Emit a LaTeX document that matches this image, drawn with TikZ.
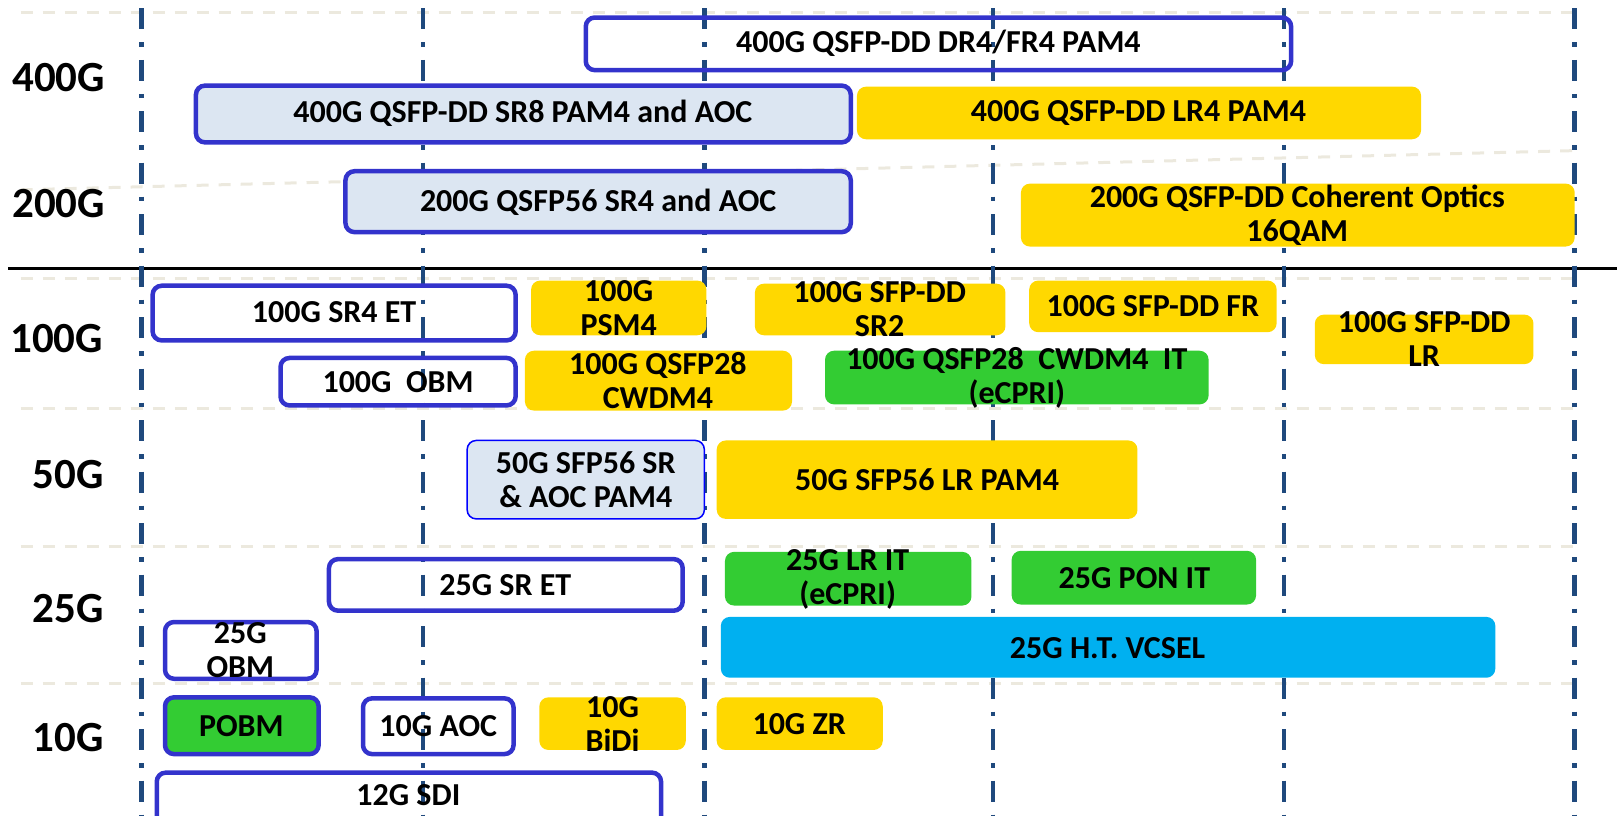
\documentclass[tikz,border=0pt]{standalone}
\usepackage{fontspec}
\setmainfont{Carlito}
\usepackage{xcolor}
\definecolor{gridblue}{RGB}{31,73,125}
\definecolor{sepgray}{RGB}{236,233,222}
\definecolor{chipblue}{RGB}{51,51,204}
\definecolor{srblue}{RGB}{220,230,242}
\definecolor{lryellow}{RGB}{255,216,0}
\definecolor{itgreen}{RGB}{51,204,51}
\definecolor{vcselcyan}{RGB}{0,176,240}

\begin{document}
\begin{tikzpicture}[x=1.0313pt, y=-1.0316pt,
        every node/.style={font=\bfseries\fontsize{32}{34}\selectfont, align=center, inner sep=0pt},
        ratelabel/.style={font=\bfseries\fontsize{43}{45}\selectfont},
        gridline/.style={draw=gridblue, line width=4.5pt, dash pattern=on 21pt off 13pt on 4.5pt off 13pt},
        sepline/.style={draw=sepgray, line width=3pt, dash pattern=on 12pt off 10pt},
        chip/.style={rounded corners=9pt},
        openchip/.style={chip, draw=chipblue, line width=4.5pt},
        srchip/.style={openchip, fill=srblue},
        lrchip/.style={chip, fill=lryellow},
        itchip/.style={chip, fill=itgreen},
        vcselchip/.style={chip, fill=vcselcyan}]
        \useasboundingbox (0,0) rectangle (1568,791);

        % row separators
        \draw[sepline] (20,12) -- (1527,12);
        \draw[sepline] (20,184) -- (1527,146);
        \foreach \y in {270,396,530,663}
          \draw[sepline] (20,\y) -- (1527,\y);
        \draw[line width=3pt] (8,260) -- (1568,260);

        % time grid
        \foreach \x in {137,410,683,963,1245,1527}
          \draw[gridline] (\x,8) -- (\x,791);

        % rate labels
        \node[ratelabel] (r400) at (57,75) {400G};
        \node[ratelabel] (r200) at (57,197) {200G};
        \node[ratelabel] (r100) at (55,328) {100G};
        \node[ratelabel] (r50) at (66,460) {50G};
        \node[ratelabel] (r25) at (66,590) {25G};
        \node[ratelabel] (r10) at (66,715) {10G};

        % 400G / 200G
        \draw[openchip] (568,17) rectangle (1252,68);
        \node (dr4) at (910,42) {400G QSFP-DD DR4/FR4 PAM4};
        \draw[srchip] (190,83) rectangle (825,138);
        \node (sr8) at (507,110) {400G QSFP-DD SR8 PAM4 and AOC};
        \fill[lrchip] (831,84) rectangle (1378,135);
        \node (lr4) at (1104,110) {400G QSFP-DD LR4 PAM4};
        \draw[srchip] (335,166) rectangle (825,225);
        \node (sr4) at (580,196) {200G QSFP56 SR4 and AOC};
        \fill[lrchip] (990,178) rectangle (1527,239);
        \node (coh) at (1258,209) {200G QSFP-DD Coherent Optics\\16QAM};

        % 100G
        \draw[openchip] (148,277) rectangle (500,330);
        \node (sr4et) at (324,303) {100G SR4 ET};
        \fill[lrchip] (515,272) rectangle (685,325);
        \node (psm4) at (600,299) {100G\\PSM4};
        \fill[lrchip] (732,275) rectangle (975,325);
        \node (sr2) at (853,300) {100G SFP-DD\\SR2};
        \fill[lrchip] (998,272) rectangle (1238,322);
        \node (fr) at (1118,297) {100G SFP-DD FR};
        \fill[lrchip] (1275,305) rectangle (1487,353);
        \node (lr) at (1381,329) {100G SFP-DD\\LR};
        \draw[openchip] (272,347) rectangle (500,393);
        \node (obm100) at (386,370) {100G\ \ OBM};
        \fill[lrchip] (509,340) rectangle (768,398);
        \node (cwdm4) at (638,369) {100G QSFP28\\CWDM4};
        \fill[itchip] (800,340) rectangle (1172,392);
        \node (cwdm4it) at (986,366) {100G QSFP28\ \ CWDM4\ \ IT\\(eCPRI)};

        % 50G
        \draw[chip, draw=blue, line width=1.5pt, fill=srblue] (453,427) rectangle (683,503);
        \node (sr50) at (568,465) {50G SFP56 SR\\\& AOC PAM4};
        \fill[lrchip] (695,427) rectangle (1103,503);
        \node (lr50) at (899,465) {50G SFP56 LR PAM4};

        % 25G
        \draw[openchip] (319,542) rectangle (662,592);
        \node (sret) at (490,567) {25G SR ET};
        \fill[itchip] (703,535) rectangle (942,587);
        \node (lrit) at (822,562) {25G LR IT\\(eCPRI)};
        \fill[itchip] (981,534) rectangle (1218,586);
        \node (ponit) at (1100,560) {25G PON IT};
        \draw[openchip] (160,603) rectangle (307,658);
        \node (obm25) at (233,630) {25G\\OBM};
        \fill[vcselchip] (699,598) rectangle (1450,657);
        \node (vcsel) at (1074,628) {25G H.T. VCSEL};

        % 10G
        \draw[openchip, fill=itgreen] (160,676) rectangle (309,731);
        \node (pobm) at (234,704) {POBM};
        \draw[openchip] (352,677) rectangle (498,731);
        \node (aoc10) at (425,704) {10G AOC};
        \fill[lrchip] (523,676) rectangle (665,727);
        \node (bidi) at (594,702) {10G\\BiDi};
        \fill[lrchip] (695,676) rectangle (856,727);
        \node (zr) at (775,702) {10G ZR};
        \draw[openchip] (152,749) rectangle (641,800);
        \node (sdi) at (396,771) {12G SDI};
\end{tikzpicture}
\end{document}
